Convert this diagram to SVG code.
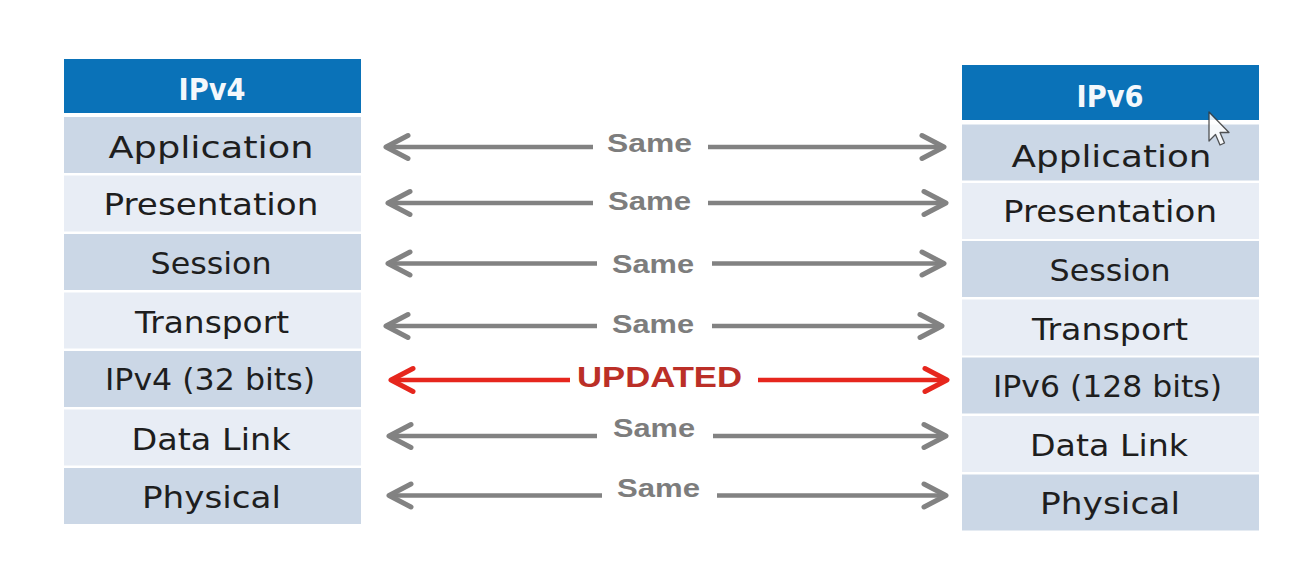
<svg xmlns="http://www.w3.org/2000/svg" width="1312" height="580" viewBox="0 0 1312 580">
<defs>
<style>
.hdr{fill:#0a72b8}
.dk{fill:#cbd7e6}
.lt{fill:#e8edf5}
.ht{font-family:"DejaVu Sans","Liberation Sans",sans-serif;font-weight:bold;font-size:31px;fill:#f4f8fc;text-anchor:middle}
.lt-t{font-family:"DejaVu Sans","Liberation Sans",sans-serif;font-size:31px;fill:#1e1e1e;text-anchor:middle}
.g{stroke:#828282;stroke-width:4.5;fill:none}
.r{stroke:#e6261d;stroke-width:4.5;fill:none}
.gs{font-family:"Liberation Sans",Arial,sans-serif;font-weight:bold;font-size:26px;fill:#7d7d7d}
.rs{font-family:"Liberation Sans",Arial,sans-serif;font-weight:bold;font-size:30px;fill:#bb2f27}
</style>
<marker id="ag" markerUnits="userSpaceOnUse" markerWidth="30" markerHeight="30" viewBox="0 0 30 30" refX="26" refY="15" orient="auto-start-reverse">
<path d="M4,3.5 L26,15 L4,26.5" fill="none" stroke="#828282" stroke-width="5" stroke-linecap="round" stroke-linejoin="round"/>
</marker>
<marker id="ar" markerUnits="userSpaceOnUse" markerWidth="30" markerHeight="30" viewBox="0 0 30 30" refX="26" refY="15" orient="auto-start-reverse">
<path d="M4,3.5 L26,15 L4,26.5" fill="none" stroke="#e6261d" stroke-width="5" stroke-linecap="round" stroke-linejoin="round"/>
</marker>
</defs>
<rect width="1312" height="580" fill="#ffffff"/>

<g id="ipv4">
<g id="ipv4-header"><rect class="hdr" x="64" y="59" width="297" height="54"/><text class="ht" x="212" y="100" textLength="67" lengthAdjust="spacingAndGlyphs">IPv4</text></g>
<g id="ipv4-application"><rect class="dk" x="64" y="117" width="297" height="56"/><text class="lt-t" x="211" y="158" textLength="205" lengthAdjust="spacingAndGlyphs">Application</text></g>
<g id="ipv4-presentation"><rect class="lt" x="64" y="175.5" width="297" height="56"/><text class="lt-t" x="211" y="215" textLength="215" lengthAdjust="spacingAndGlyphs">Presentation</text></g>
<g id="ipv4-session"><rect class="dk" x="64" y="234" width="297" height="56"/><text class="lt-t" x="211" y="273.5" textLength="121" lengthAdjust="spacingAndGlyphs">Session</text></g>
<g id="ipv4-transport"><rect class="lt" x="64" y="292.5" width="297" height="56"/><text class="lt-t" x="212" y="333" textLength="154" lengthAdjust="spacingAndGlyphs">Transport</text></g>
<g id="ipv4-network"><rect class="dk" x="64" y="351" width="297" height="56"/><text class="lt-t" x="210" y="390" textLength="210" lengthAdjust="spacingAndGlyphs">IPv4 (32 bits)</text></g>
<g id="ipv4-datalink"><rect class="lt" x="64" y="409.5" width="297" height="56"/><text class="lt-t" x="211" y="449.5" textLength="159" lengthAdjust="spacingAndGlyphs">Data Link</text></g>
<g id="ipv4-physical"><rect class="dk" x="64" y="468" width="297" height="56"/><text class="lt-t" x="211.5" y="508" textLength="139" lengthAdjust="spacingAndGlyphs">Physical</text></g>
</g>

<g id="ipv6">
<g id="ipv6-header"><rect class="hdr" x="962" y="65" width="297" height="55"/><text class="ht" x="1110" y="106.5" textLength="67" lengthAdjust="spacingAndGlyphs">IPv6</text></g>
<g id="ipv6-application"><rect class="dk" x="962" y="124.5" width="297" height="56"/><text class="lt-t" x="1111.5" y="166.5" textLength="200" lengthAdjust="spacingAndGlyphs">Application</text></g>
<g id="ipv6-presentation"><rect class="lt" x="962" y="183" width="297" height="56"/><text class="lt-t" x="1110" y="222" textLength="214" lengthAdjust="spacingAndGlyphs">Presentation</text></g>
<g id="ipv6-session"><rect class="dk" x="962" y="241" width="297" height="56"/><text class="lt-t" x="1110" y="281" textLength="121" lengthAdjust="spacingAndGlyphs">Session</text></g>
<g id="ipv6-transport"><rect class="lt" x="962" y="299.5" width="297" height="56"/><text class="lt-t" x="1110" y="339.5" textLength="156" lengthAdjust="spacingAndGlyphs">Transport</text></g>
<g id="ipv6-network"><rect class="dk" x="962" y="357.5" width="297" height="56"/><text class="lt-t" x="1107.5" y="397" textLength="229" lengthAdjust="spacingAndGlyphs">IPv6 (128 bits)</text></g>
<g id="ipv6-datalink"><rect class="lt" x="962" y="416" width="297" height="56"/><text class="lt-t" x="1109" y="456" textLength="158" lengthAdjust="spacingAndGlyphs">Data Link</text></g>
<g id="ipv6-physical"><rect class="dk" x="962" y="474.5" width="297" height="56"/><text class="lt-t" x="1110" y="513.5" textLength="140" lengthAdjust="spacingAndGlyphs">Physical</text></g>
</g>

<g id="connectors">
<line class="g" x1="386" y1="147" x2="593" y2="147" marker-start="url(#ag)"/>
<line class="g" x1="708" y1="147" x2="944" y2="147" marker-end="url(#ag)"/>
<text class="gs" x="607" y="151.5" textLength="85" lengthAdjust="spacingAndGlyphs">Same</text>

<line class="g" x1="388" y1="203" x2="593" y2="203" marker-start="url(#ag)"/>
<line class="g" x1="708" y1="203" x2="946" y2="203" marker-end="url(#ag)"/>
<text class="gs" x="608" y="210" textLength="83" lengthAdjust="spacingAndGlyphs">Same</text>

<line class="g" x1="388" y1="263.5" x2="597" y2="263.5" marker-start="url(#ag)"/>
<line class="g" x1="712" y1="263.5" x2="944" y2="263.5" marker-end="url(#ag)"/>
<text class="gs" x="612" y="273.3" textLength="82" lengthAdjust="spacingAndGlyphs">Same</text>

<line class="g" x1="386" y1="326" x2="597" y2="326" marker-start="url(#ag)"/>
<line class="g" x1="712" y1="326" x2="942" y2="326" marker-end="url(#ag)"/>
<text class="gs" x="612" y="333.3" textLength="82" lengthAdjust="spacingAndGlyphs">Same</text>

<line class="r" x1="391" y1="380" x2="570" y2="380" marker-start="url(#ar)"/>
<line class="r" x1="758" y1="380" x2="947" y2="380" marker-end="url(#ar)"/>
<text class="rs" x="577" y="386.7" textLength="165" lengthAdjust="spacingAndGlyphs">UPDATED</text>

<line class="g" x1="389" y1="436" x2="597" y2="436" marker-start="url(#ag)"/>
<line class="g" x1="713" y1="436" x2="946" y2="436" marker-end="url(#ag)"/>
<text class="gs" x="613" y="436.7" textLength="82" lengthAdjust="spacingAndGlyphs">Same</text>

<line class="g" x1="389" y1="495.5" x2="602" y2="495.5" marker-start="url(#ag)"/>
<line class="g" x1="717" y1="495.5" x2="946" y2="495.5" marker-end="url(#ag)"/>
<text class="gs" x="617" y="496.7" textLength="83" lengthAdjust="spacingAndGlyphs">Same</text>
</g>

<g id="cursor">
<path d="M1209,112 L1209,141 L1215.5,134.5 L1220,145 L1224.5,143 L1220,132.5 L1229,132.5 Z" fill="#ffffff" stroke="#3a3a3a" stroke-width="1.3" stroke-linejoin="round" opacity="0.85"/>
</g>
</svg>
